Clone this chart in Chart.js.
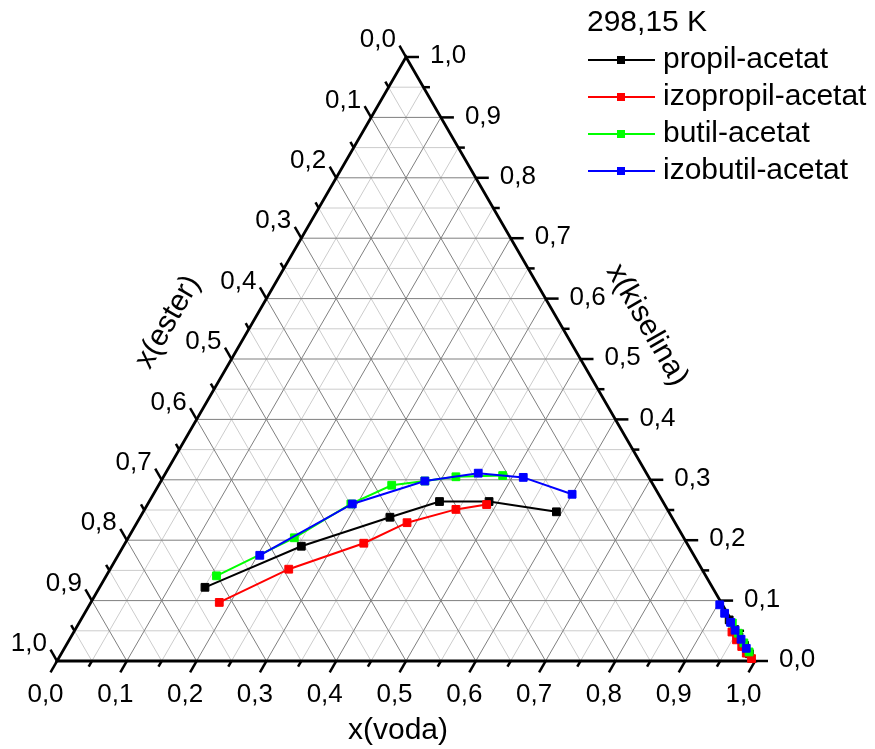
<!DOCTYPE html>
<html>
<head>
<meta charset="utf-8">
<script src="https://cdn.jsdelivr.net/npm/chart.js@4"></script>
<style>
  body { margin: 0; background: #fff; }
  #wrap { width: 875px; height: 749px; }
</style>
</head>
<body>
<div id="wrap"><canvas id="ternary" width="875" height="749"></canvas></div>
<script>
// Podaci: x(voda) i x(kiselina), x(ester) = 1 - voda - kiselina
// null razdvaja estersku i vodenu fazu
const propilVoda      = [0.151, 0.255, 0.358, 0.416, 0.487, 0.592, null, 0.929, 0.945, 0.957, 0.972, 0.986];
const propilKiselina  = [0.122, 0.190, 0.238, 0.264, 0.264, 0.247, null, 0.068, 0.052, 0.040, 0.026, 0.012];
const izopropilVoda     = [0.184, 0.256, 0.342, 0.387, 0.446, 0.486, null, 0.943, 0.956, 0.969, 0.981, 0.993];
const izopropilKiselina = [0.097, 0.152, 0.195, 0.229, 0.251, 0.259, null, 0.048, 0.035, 0.024, 0.013, 0.004];
const butilVoda      = [0.158, 0.238, 0.291, 0.334, 0.378, 0.419, 0.485, null, 0.936, 0.953, 0.969, 0.984];
const butilKiselina  = [0.141, 0.204, 0.260, 0.291, 0.298, 0.305, 0.307, null, 0.063, 0.046, 0.030, 0.015];
const izobutilVoda     = [0.203, 0.293, 0.378, 0.448, 0.516, 0.600, null, 0.903, 0.917, 0.933, 0.946, 0.962, 0.977];
const izobutilKiselina = [0.175, 0.260, 0.298, 0.311, 0.304, 0.276, null, 0.093, 0.079, 0.064, 0.051, 0.036, 0.021];

const seriesNames = ["propil-acetat", "izopropil-acetat", "butil-acetat", "izobutil-acetat"];
const seriesColors = ["#000000", "#ff0000", "#00ff00", "#0000ff"];
const tickLabels = ["0,0", "0,1", "0,2", "0,3", "0,4", "0,5", "0,6", "0,7", "0,8", "0,9", "1,0"];
const legendTitle = "298,15 K";

const H = Math.sqrt(3) / 2;
const FONT = 'Arial, "Liberation Sans", sans-serif';

// ternarne -> kartezijeve koordinate
function toXY(voda, kis) {
    return voda.map((w, i) => w === null ? { x: null, y: null } : { x: w + kis[i] / 2, y: kis[i] * H });
}

function makeSet(idx, voda, kis) {
    return {
        label: seriesNames[idx],
        data: toXY(voda, kis),
        borderColor: seriesColors[idx],
        backgroundColor: seriesColors[idx],
        pointBackgroundColor: seriesColors[idx],
        pointBorderColor: seriesColors[idx],
        pointStyle: 'rect',
        pointRadius: 5.5,
        pointBorderWidth: 1,
        borderWidth: 2,
        showLine: true,
        spanGaps: false,
        clip: false,
        order: 3 - idx
    };
}

// mreža, osi, oznake
const ternaryAxes = {
    id: 'ternaryAxes',
    beforeDatasetsDraw(chart) {
        const ctx = chart.ctx;
        const xs = chart.scales.x, ys = chart.scales.y;
        const pt = (w, k) => [xs.getPixelForValue(w + k / 2), ys.getPixelForValue(k * H)];
        const line = (a, b) => { ctx.beginPath(); ctx.moveTo(a[0], a[1]); ctx.lineTo(b[0], b[1]); ctx.stroke(); };

        ctx.save();
        ctx.lineWidth = 1;
        // sporedne linije pa glavne
        [1, 0].forEach(minor => {
            ctx.strokeStyle = minor ? '#cccccc' : '#7f7f7f';
            for (let i = 1; i < 20; i++) {
                if (i % 2 !== minor) continue;
                const v = i / 20;
                line(pt(0, v), pt(1 - v, v));
                line(pt(v, 0), pt(v, 1 - v));
                line(pt(1 - v, 0), pt(0, 1 - v));
            }
        });

        // stranice trokuta i oznake
        ctx.strokeStyle = '#000';
        ctx.lineWidth = 2.8;
        ctx.lineCap = 'butt';
        ctx.beginPath();
        const A = pt(0, 0), B = pt(1, 0), C = pt(0, 1);
        ctx.moveTo(A[0], A[1]); ctx.lineTo(B[0], B[1]); ctx.lineTo(C[0], C[1]); ctx.closePath();
        ctx.stroke();

        ctx.lineWidth = 2.5;
        for (let i = 0; i <= 20; i++) {
            const v = i / 20;
            const len = i % 2 ? 6.5 : 13;
            let p = pt(v, 0);
            line(p, [p[0] - 0.5 * len, p[1] + H * len]);
            p = pt(1 - v, v);
            line(p, [p[0] + len, p[1]]);
            p = pt(0, 1 - v);
            line(p, [p[0] - 0.5 * len, p[1] - H * len]);
        }

        ctx.fillStyle = '#000';
        ctx.font = '26px ' + FONT;
        ctx.textBaseline = 'middle';
        for (let i = 0; i <= 10; i++) {
            const v = i / 10;
            let p = pt(v, 0);
            ctx.textAlign = 'center';
            ctx.fillText(tickLabels[i], p[0] - 11.5, p[1] + 34);
            p = pt(1 - v, v);
            ctx.textAlign = 'left';
            ctx.fillText(tickLabels[i], p[0] + 24, p[1] - 1);
            p = pt(0, 1 - v);
            ctx.textAlign = 'right';
            ctx.fillText(tickLabels[i], p[0] - 10, p[1] - 17);
        }

        // naslovi osi
        ctx.font = '30px ' + FONT;
        ctx.textAlign = 'center';
        ctx.fillText('x(voda)', 398, 731);
        ctx.save();
        ctx.translate(168, 322);
        ctx.rotate(-Math.PI / 3);
        ctx.fillText('x(ester)', 0, 0);
        ctx.restore();
        ctx.save();
        ctx.translate(647, 325);
        ctx.rotate(Math.PI / 3);
        ctx.fillText('x(kiselina)', 0, 0);
        ctx.restore();
        ctx.restore();
    },
    afterDraw(chart) {
        // legenda
        const ctx = chart.ctx;
        ctx.save();
        ctx.fillStyle = '#000';
        ctx.font = '30px ' + FONT;
        ctx.textAlign = 'left';
        ctx.textBaseline = 'middle';
        ctx.fillText(legendTitle, 587, 23);
        const rows = [60, 97, 134, 171];
        seriesNames.forEach((name, i) => {
            const y = rows[i];
            ctx.strokeStyle = seriesColors[i];
            ctx.fillStyle = seriesColors[i];
            ctx.lineWidth = 2;
            ctx.beginPath(); ctx.moveTo(588, y); ctx.lineTo(655, y); ctx.stroke();
            ctx.fillRect(617, y - 4, 8, 8);
            ctx.fillStyle = '#000';
            ctx.fillText(name, 663, y);
        });
        ctx.restore();
    }
};

new Chart(document.getElementById("ternary"), {
    type: 'scatter',
    data: {
        datasets: [
            makeSet(0, propilVoda, propilKiselina),
            makeSet(1, izopropilVoda, izopropilKiselina),
            makeSet(2, butilVoda, butilKiselina),
            makeSet(3, izobutilVoda, izobutilKiselina)
        ]
    },
    options: {
        responsive: false,
        animation: false,
        devicePixelRatio: 1,
        layout: { padding: { left: 57, right: 120, top: 57, bottom: 88 } },
        scales: {
            x: { type: 'linear', min: 0, max: 1, display: false },
            y: { type: 'linear', min: 0, max: H, display: false }
        },
        plugins: {
            legend: { display: false },
            tooltip: { enabled: false }
        }
    },
    plugins: [ternaryAxes]
});
</script>
</body>
</html>
